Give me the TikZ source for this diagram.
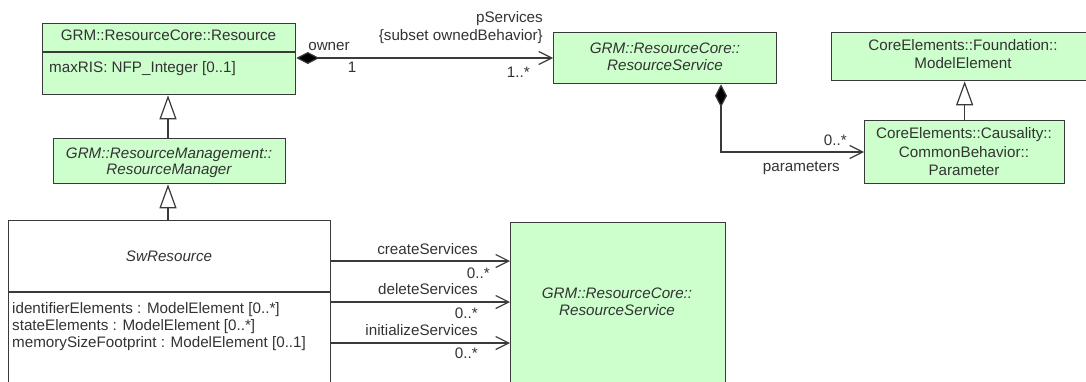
\documentclass[tikz,border=0pt]{standalone}
\usepackage{fontspec}
\setmainfont{Liberation Sans}
\usetikzlibrary{arrows.meta}
\definecolor{umlgreen}{HTML}{CCFFCC}
\definecolor{linec}{HTML}{3A3A3A}
\definecolor{txtc}{HTML}{333333}
\tikzset{
  umlbox/.style={draw=linec, line width=1.3pt, fill=umlgreen, rectangle, inner sep=0pt, anchor=north west},
  whitebox/.style={umlbox, fill=white},
  lbl/.style={text=txtc, font=\fontsize{15.2}{17}\selectfont, inner sep=0pt, anchor=base},
  lblL/.style={lbl, anchor=base west},
  lblR/.style={lbl, anchor=base east},
  ilbl/.style={lbl, font=\fontsize{15.2}{17}\selectfont\itshape},
  sep/.style={draw=linec, line width=1.3pt},
  gen/.style={draw=linec, line width=1.2pt, -{Triangle[open, length=24pt, width=17pt, fill=white]}},
  nav/.style={draw=linec, line width=1.2pt, -{Straight Barb[length=13pt, width=13pt]}},
  comp/.style={draw=linec, line width=1.2pt, {Diamond[length=23pt, width=12pt, fill=black]}-{Straight Barb[length=13pt, width=13pt]}}
}
\begin{document}
\begin{tikzpicture}[x=1pt, y=-1pt]
\useasboundingbox (0,0) rectangle (1086,381);

% Resource
\node[umlbox, minimum width=253pt, minimum height=71pt] (res) at (42,23) {};
\draw[sep] (res.west |- 0,52) -- (res.east |- 0,52);
\node[lbl] (resT) at (168.5,40) {GRM::ResourceCore::Resource};
\node[lblL] (resA) at (49,72) {maxRIS: NFP\_Integer [0..1]};

% ResourceManager
\node[umlbox, minimum width=232pt, minimum height=45pt] (mgr) at (53,138) {};
\node[ilbl] (mgrT1) at (169,158) {GRM::ResourceManagement::};
\node[ilbl] (mgrT2) at (169,174) {ResourceManager};

% SwResource
\node[whitebox, minimum width=322pt, minimum height=190pt] (sw) at (8,220) {};
\draw[sep] (sw.west |- 0,292) -- (sw.east |- 0,292);
\node[ilbl] (swT) at (169,261) {SwResource};
\node[lblL] (swA1) at (12,313) {identifierElements : ModelElement [0..*]};
\node[lblL] (swA2) at (12,330) {stateElements : ModelElement [0..*]};
\node[lblL] (swA3) at (12,347) {memorySizeFootprint : ModelElement [0..1]};

% ResourceService (big)
\node[umlbox, minimum width=215pt, minimum height=190pt] (rs2) at (510,222) {};
\node[ilbl] (rs2T1) at (617,298) {GRM::ResourceCore::};
\node[ilbl] (rs2T2) at (617,315) {ResourceService};

% ResourceService (top)
\node[umlbox, minimum width=223pt, minimum height=51pt] (rs1) at (553,32) {};
\node[ilbl] (rs1T1) at (665,53) {GRM::ResourceCore::};
\node[ilbl] (rs1T2) at (665,70) {ResourceService};

% ModelElement
\node[umlbox, minimum width=269pt, minimum height=48pt] (me) at (831,32) {};
\node[lbl] (meT1) at (963,50) {CoreElements::Foundation::};
\node[lbl] (meT2) at (963,68) {ModelElement};

% Parameter
\node[umlbox, minimum width=200pt, minimum height=63pt] (par) at (864,120) {};
\node[lbl] (parT1) at (964,138) {CoreElements::Causality::};
\node[lbl] (parT2) at (964,157) {CommonBehavior::};
\node[lbl] (parT3) at (964,175) {Parameter};

% generalizations
\draw[gen] (mgr.north -| 168,0) -- (res.south -| 168,0);
\draw[gen] (sw.north -| 168,0) -- (mgr.south -| 168,0);
\draw[gen] (par.north) -- (par.north |- me.south);

% owner composition
\draw[comp] (res.east |- 0,58) -- (rs1.west |- 0,58);
\node[lbl] (owner) at (329,50) {owner};
\node[lbl] (one) at (352,72) {1};
\node[lblR] (psv) at (543,22) {pServices};
\node[lblR] (sub) at (543,40) {\{subset ownedBehavior\}};
\node[lblR] (mult1) at (530,77) {1..*};

% parameters composition
\coordinate (pc) at (721,152);
\draw[comp] (rs1.south -| 721,0) |- (par.west |- pc);
\node[lblR] (m2) at (847,145) {0..*};
\node[lblR] (parm) at (840,171) {parameters};

% service associations
\draw[nav] (sw.east |- 0,261) -- (rs2.west |- 0,261);
\draw[nav] (sw.east |- 0,302) -- (rs2.west |- 0,302);
\draw[nav] (sw.east |- 0,343) -- (rs2.west |- 0,343);
\node[lblR] (cs) at (478,254) {createServices};
\node[lblR] (cm) at (490,278) {0..*};
\node[lblR] (ds) at (478,294) {deleteServices};
\node[lblR] (dm) at (478,318) {0..*};
\node[lblR] (is) at (478,335) {initializeServices};
\node[lblR] (im) at (478,358) {0..*};
\end{tikzpicture}
\end{document}
